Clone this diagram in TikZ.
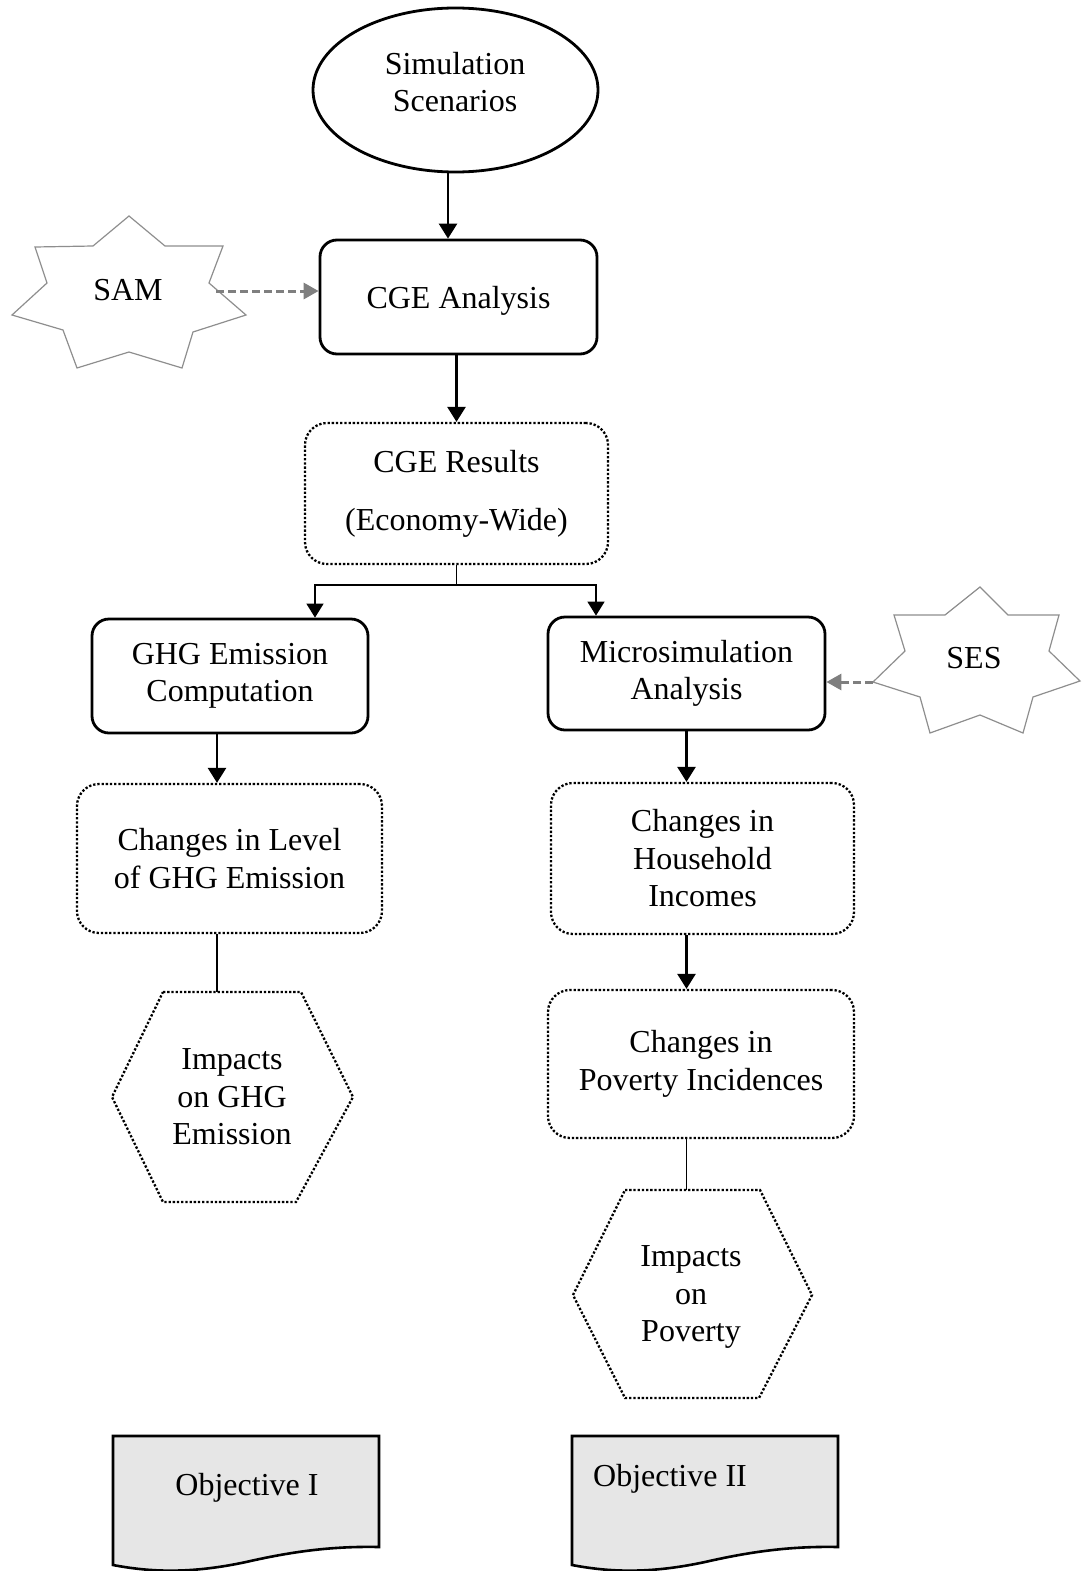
\documentclass[tikz,border=0pt]{standalone}
\usepackage{fontspec}
\setmainfont{Liberation Serif}
\usetikzlibrary{shapes.geometric,arrows.meta,calc}

\definecolor{dashgray}{HTML}{7F7F7F}
\definecolor{stargray}{HTML}{8E8E8E}
\definecolor{docfill}{HTML}{E6E6E6}

\begin{document}
\begin{tikzpicture}[x=1pt,y=-1pt,
  every node/.style={font=\fontsize{32pt}{37.5pt}\selectfont, align=center, inner sep=0pt},
  boxdim/.style 2 args={minimum width=#1pt, minimum height=#2pt},
  solidbox/.style={draw, line width=2.8pt, rounded corners=17pt},
  dotbox/.style={draw, line width=2.3pt, dash pattern=on 2.3pt off 1.9pt, rounded corners=22pt},
  hexline/.style={draw, line width=2.3pt, dash pattern=on 2.3pt off 1.9pt},
  arr/.style={line width=2.6pt, -{Triangle[width=18pt,length=15pt]}},
  thinarr/.style={line width=1.5pt, -{Triangle[width=17pt,length=14pt]}},
  thinline/.style={line width=1.3pt},
  dasharr/.style={draw=dashgray, line width=3pt, dash pattern=on 8pt off 4pt,
    -{Triangle[width=16pt,length=15pt,fill=dashgray]}},
  starline/.style={draw=stargray, line width=1.2pt, fill=white},
  docshape/.style={draw, line width=2.6pt, fill=docfill},
]
\fill[white] (0,0) rectangle (1088,1571);
\useasboundingbox (0,0) rectangle (1088,1571);

% ---- top: scenarios and CGE model ----
\node[ellipse, draw, line width=2.8pt, minimum width=285pt, minimum height=164pt] (sim) at (455.5,90) {};
\node (simtext) at (455,82) {Simulation\\Scenarios};
\node[solidbox, boxdim={277}{114}, text depth=0pt] (cge) at (458.5,297) {CGE Analysis};
\node[dotbox, boxdim={303}{141}] (res) at (456.5,493.5) {CGE Results\\[20.5pt](Economy-Wide)};

% ---- SAM data input ----
\draw[starline] (129,216) -- (165,246) -- (223,246) -- (209,283) -- (246,315) -- (193,332)
  -- (182,368) -- (129,352) -- (77,368) -- (63,330) -- (12,315) -- (47,283) -- (35,247)
  -- (93,246) -- cycle;
\node (sam) at (128,290) {SAM};
\coordinate (samtip) at (216,291);

% ---- second level ----
\node[solidbox, boxdim={276}{114}] (ghg) at (230,676) {GHG Emission\\Computation};
\node[solidbox, boxdim={277}{113}] (micro) at (686.5,673.5) {Microsimulation\\Analysis};
\node[dotbox, boxdim={305}{149}] (lvl) at (229.5,858.5) {Changes in Level\\of GHG Emission};
\node[dotbox, boxdim={303}{151}] (inc) at (702.5,858.5) {Changes in\\Household\\Incomes};
\node[dotbox, boxdim={306}{148}] (pov) at (701,1064) {Changes in\\Poverty Incidences};

% ---- SES data input ----
\draw[starline] (980,587) -- (1008,615) -- (1059,615) -- (1049,651) -- (1080,681) -- (1033,697)
  -- (1023,733) -- (980,715) -- (930,733) -- (920,697) -- (873,682) -- (905,651) -- (894,615)
  -- (945,615) -- cycle;
\node (ses) at (974,658) {SES};
\coordinate (sestip) at (873,682);

% ---- impact hexagons ----
\draw[hexline] (163,992) -- (301,992) -- (353,1097) -- (296,1202) -- (163,1202) -- (112,1097) -- cycle;
\node (impG) at (232,1097) {Impacts\\on GHG\\Emission};
\coordinate (hexLtop) at (217,992);
\draw[hexline] (625,1190) -- (760,1190) -- (812,1295) -- (759,1398) -- (625,1398) -- (573,1295) -- cycle;
\node (impP) at (691,1297) {Impacts\\on\\Poverty};
\coordinate (hexRtop) at (686.5,1190);

% ---- objectives ----
\draw[docshape] (113,1436) -- (379,1436) -- (379,1547)
  .. controls (330,1546) and (290,1552) .. (246,1562)
  .. controls (190,1574) and (150,1572) .. (113,1565) -- cycle;
\node[text depth=0pt] (obj1) at (247,1484) {Objective I};
\draw[docshape] (572,1436) -- (838,1436) -- (838,1547)
  .. controls (789,1546) and (749,1552) .. (705,1562)
  .. controls (649,1574) and (609,1572) .. (572,1565) -- cycle;
\node[text depth=0pt] (obj2) at (670,1475) {Objective II};

% ---- connectors ----
\coordinate (axA) at (448,0);
\coordinate (axB) at (217,0);
\coordinate (forkL) at (315,585);
\coordinate (forkR) at (596,585);
\draw[arr] (sim.south -| axA) -- (cge.north -| axA);
\draw[dasharr] (samtip) -- (samtip -| cge.west);
\draw[arr] (cge.south -| res.north) -- (res.north);
\draw[thinline] (res.south) -- (res.south |- forkL);
\draw[thinarr] (res.south |- forkL) -| (ghg.north -| forkL);
\draw[thinarr] (res.south |- forkR) -| (micro.north -| forkR);
\draw[dasharr] (sestip) -- (sestip -| micro.east);
\draw[arr] (ghg.south -| axB) -- (lvl.north -| axB);
\draw[thinline] (lvl.south -| axB) -- (hexLtop);
\draw[arr] (micro.south) -- (micro.south |- inc.north);
\draw[arr] (inc.south -| micro.south) -- (pov.north -| micro.south);
\draw[thinline] (pov.south -| micro.south) -- (hexRtop);
\end{tikzpicture}
\end{document}
